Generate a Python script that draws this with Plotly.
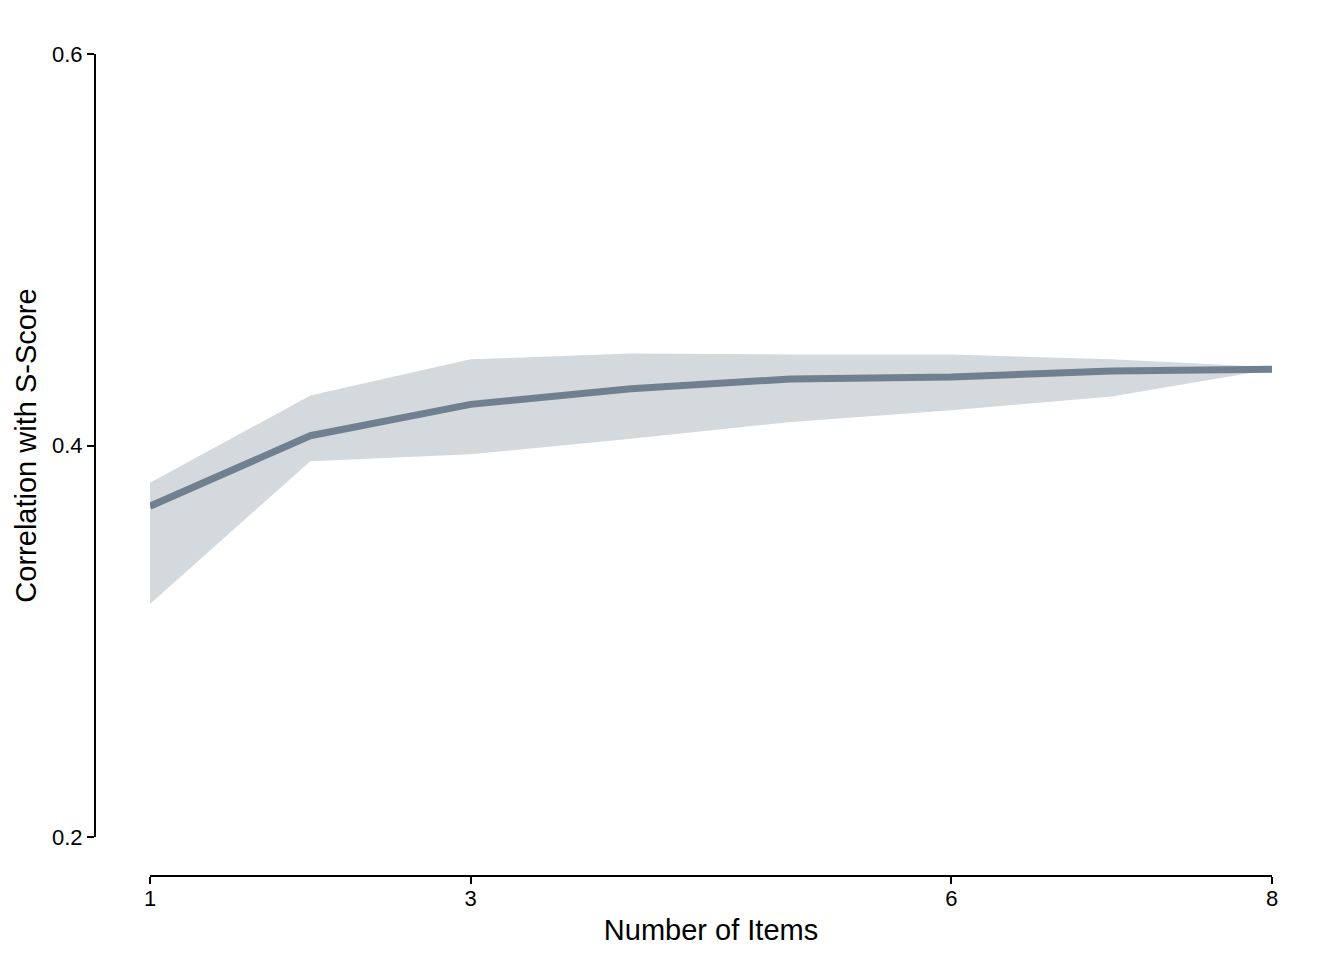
import plotly.graph_objects as go

# Number of items vs correlation with S-Score (mean line + range band)
items = [1, 2, 3, 4, 5, 6, 7, 8]
mean_r = [0.369, 0.405, 0.421, 0.429, 0.434, 0.435, 0.438, 0.439]
upper_r = [0.381, 0.4255, 0.444, 0.447, 0.4465, 0.4465, 0.444, 0.440]
lower_r = [0.319, 0.392, 0.3955, 0.4035, 0.412, 0.418, 0.425, 0.439]

x_ticks = [1, 3, 6, 8]
y_ticks = [0.2, 0.4, 0.6]

LINE = "#708090"
BAND = "rgba(112,128,144,0.3)"
FONT = "Liberation Sans, Arial, sans-serif"

fig = go.Figure()
fig.add_trace(go.Scatter(
    x=items, y=upper_r, mode="lines", line=dict(width=0),
    showlegend=False, hoverinfo="skip",
))
fig.add_trace(go.Scatter(
    x=items, y=lower_r, mode="lines", line=dict(width=0),
    fill="tonexty", fillcolor=BAND, showlegend=False, hoverinfo="skip",
))
fig.add_trace(go.Scatter(
    x=items, y=mean_r, mode="lines", line=dict(color=LINE, width=7),
    showlegend=False,
))

# page body has an 8px margin, so the figure is sized/offset for it
fig.update_layout(
    width=1328, height=944,
    plot_bgcolor="white", paper_bgcolor="white",
    font=dict(family=FONT, color="black"),
    margin=dict(l=87, r=64, t=46, b=76, autoexpand=False),
    showlegend=False,
)
fig.update_xaxes(
    range=[1, 8], domain=[55 / 1177, 1], anchor="free", position=0,
    tickvals=x_ticks, ticks="outside", ticklen=7, tickwidth=2, tickcolor="black",
    ticklabelstandoff=-4,
    showline=True, linecolor="black", linewidth=2,
    showgrid=False, zeroline=False, automargin=False,
    tickfont=dict(size=22, family=FONT),
    title=dict(text="Number of Items", font=dict(size=29, family=FONT), standoff=8),
)
fig.update_yaxes(
    range=[0.2, 0.6], domain=[39 / 822, 1], anchor="free", position=0,
    tickvals=y_ticks, tickformat=".1f", ticks="outside", ticklen=7, tickwidth=2,
    tickcolor="black", showline=True, linecolor="black", linewidth=2,
    showgrid=False, zeroline=False, automargin=False,
    tickfont=dict(size=22, family=FONT),
    title=dict(text="Correlation with S-Score", font=dict(size=29, family=FONT), standoff=6),
)

fig.write_html("out.html")
